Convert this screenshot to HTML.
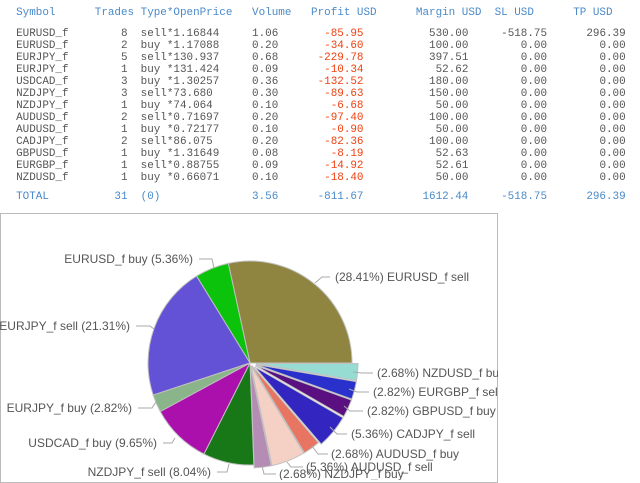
<!DOCTYPE html>
<html><head><meta charset="utf-8"><style>
html,body{margin:0;padding:0;background:#fff;width:640px;height:480px;overflow:hidden}
pre{position:absolute;left:3px;top:0;margin:0;font:10.93px/12px "Liberation Mono",monospace;color:#555}
.h{color:#4a8ac8}.r{color:#f04010}
#box{position:absolute;left:0;top:213px;width:498px;height:270px;border:1px solid #bbb;box-sizing:border-box}
svg{position:absolute;left:0;top:0}
</style></head><body>
<pre style="top:7px"><span class="h">  Symbol      Trades Type*OpenPrice   Volume   Profit USD      Margin USD  SL USD      TP USD</span>
</pre>
<pre style="top:28px"><span>  EURUSD_f        8  sell*1.16844     1.06</span><span class="r">       -85.95</span>          530.00     -518.75      296.39
  EURUSD_f        2  buy *1.17088     0.20<span class="r">       -34.60</span>          100.00        0.00        0.00
  EURJPY_f        5  sell*130.937     0.68<span class="r">      -229.78</span>          397.51        0.00        0.00
  EURJPY_f        1  buy *131.424     0.09<span class="r">       -10.34</span>           52.62        0.00        0.00
  USDCAD_f        3  buy *1.30257     0.36<span class="r">      -132.52</span>          180.00        0.00        0.00
  NZDJPY_f        3  sell*73.680      0.30<span class="r">       -89.63</span>          150.00        0.00        0.00
  NZDJPY_f        1  buy *74.064      0.10<span class="r">        -6.68</span>           50.00        0.00        0.00
  AUDUSD_f        2  sell*0.71697     0.20<span class="r">       -97.40</span>          100.00        0.00        0.00
  AUDUSD_f        1  buy *0.72177     0.10<span class="r">        -0.90</span>           50.00        0.00        0.00
  CADJPY_f        2  sell*86.075      0.20<span class="r">       -82.36</span>          100.00        0.00        0.00
  GBPUSD_f        1  buy *1.31649     0.08<span class="r">        -8.19</span>           52.63        0.00        0.00
  EURGBP_f        1  sell*0.88755     0.09<span class="r">       -14.92</span>           52.61        0.00        0.00
  NZDUSD_f        1  buy *0.66071     0.10<span class="r">       -18.40</span>           50.00        0.00        0.00
</pre>
<pre style="top:191px" class="h">  TOTAL          31  (0)              3.56      -811.67         1612.44     -518.75      296.39</pre>
<div id="box"></div>
<svg width="498" height="480" viewBox="0 0 498 480" id="s" font-family="Liberation Sans, sans-serif" font-size="12" fill="#555"></svg>
<script>
var d=[[28.41,"#8f8540"],[5.36,"#0ac30a"],[21.31,"#6352d6"],[2.82,"#8ab48a"],[9.65,"#ac10ac"],[8.04,"#187818"],[2.68,"#b48cb4"],[5.36,"#f5d0c5"],[2.68,"#e87462"],[5.36,"#3326c0"],[2.82,"#5a1080"],[2.82,"#2a30cc"],[2.68,"#96dcd2"]];
var cx=250,cy=363,r=102,a=0,h="";
var tot=0;d.forEach(function(x){tot+=x[0]});
d.forEach(function(x,i){var a2=a+x[0]/tot*2*Math.PI;
var ox=0,oy=0;if(i>=6){var m=(a+a2)/2;ox=6*Math.cos(m)*(i>=9?1:0.5);oy=-6*Math.sin(m)*(i>=9?1:0.5);}
var c=cx+ox,e=cy+oy;
h+='<path d="M'+c+','+e+' L'+(c+r*Math.cos(a))+','+(e-r*Math.sin(a))+' A'+r+','+r+' 0 '+((a2-a)>Math.PI?1:0)+',0 '+(c+r*Math.cos(a2))+','+(e-r*Math.sin(a2))+' Z" fill="'+x[1]+'" stroke="#c0c0c0" stroke-width="1"/>';a=a2;});
var L=[["EURUSD_f buy (5.36%)",193,259,"end","199,259 212,259 214,268"],
["(28.41%) EURUSD_f sell",335,277,"start","330,277 322,277 315,283"],
["EURJPY_f sell (21.31%)",130,326,"end","136,326 150,326 154,329"],
["EURJPY_f buy (2.82%)",132,408,"end","138,408 152,408 156,402"],
["USDCAD_f buy (9.65%)",157,443,"end","163,443 172,443 175,438"],
["NZDJPY_f sell (8.04%)",211,472,"end","217,472 227,472 229,464"],
["(2.68%) NZDJPY_f buy",279,474,"start","276,474 264,474 262,466"],
["(5.36%) AUDUSD_f sell",306,467,"start","303,467 291,467 287,462"],
["(2.68%) AUDUSD_f buy",331,454,"start","328,454 318,454 312,446"],
["(5.36%) CADJPY_f sell",351,434,"start","347,434 337,434 330,427"],
["(2.82%) GBPUSD_f buy",367,411,"start","363,411 350,411 344,406"],
["(2.82%) EURGBP_f sell",373,392,"start","369,392 357,392 349,389"],
["(2.68%) NZDUSD_f buy",377,373,"start","373,373 362,373 353,372"]];
L.forEach(function(l){h+='<polyline points="'+l[4]+'" fill="none" stroke="#aaa"/><text x="'+l[1]+'" y="'+(l[2]+4)+'" text-anchor="'+l[3]+'">'+l[0]+'</text>';});
document.getElementById("s").innerHTML=h;
</script>
</body></html>
